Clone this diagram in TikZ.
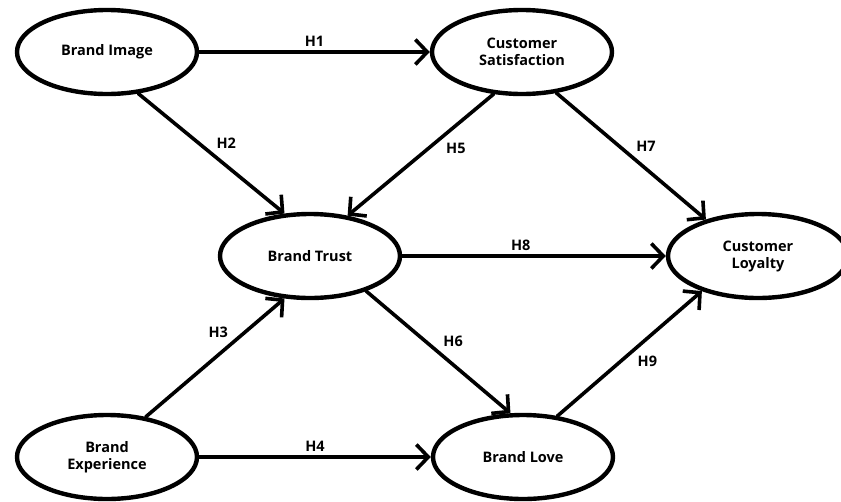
\documentclass[tikz,border=0pt]{standalone}
\usepackage{fontspec}
\setmainfont{Open Sans}
\usetikzlibrary{shapes.geometric,arrows.meta}
\begin{document}
\begin{tikzpicture}[x=1pt, y=-1pt, >={Straight Barb[length=12pt,width=25pt]}, font=\bfseries\fontsize{14.5}{17}\selectfont, line join=round, line cap=round,
	construct/.style={ellipse, draw, line width=4.4pt, minimum width=180pt, minimum height=84pt, inner sep=0pt, align=center},
	hyp/.style={->, line width=3.6pt}]
			\useasboundingbox (0,0) rectangle (841,501);
			
			\node[construct] (bi) at (107,52) {Brand Image};
			\node[construct] (cs) at (522,52) {Customer\\Satisfaction};
			\node[construct] (bt) at (310,256) {Brand Trust};
			\node[construct] (cl) at (758,256) {Customer\\Loyalty};
			\node[construct] (be) at (107,457) {Brand\\Experience};
			\node[construct] (bl) at (523,457) {Brand Love};
			
			\draw[hyp] (bi.east) -- (cs.west) node[midway, above] {H1};
			\draw[hyp] (bi.-53) -- (bt.121) node[midway, above right] {H2};
			\draw[hyp] (be.46) -- (bt.-121) node[pos=0.63, above left] {H3};
			\draw[hyp] (be.east) -- (bl.west) node[midway, above] {H4};
			\draw[hyp] (cs.-124) -- (bt.47) node[pos=0.36, below right] {H5};
			\draw[hyp] (bt.-32) -- (bl.106) node[midway, above right] {H6};
			\draw[hyp] (cs.-50) -- (cl.145) node[midway, above right] {H7};
			\draw[hyp] (bt.east) -- (cl.west) node[pos=0.45, above] {H8};
			\draw[hyp] (bl.50) -- (cl.-148) node[pos=0.52, below right] {H9};
	\end{tikzpicture}
\end{document}
